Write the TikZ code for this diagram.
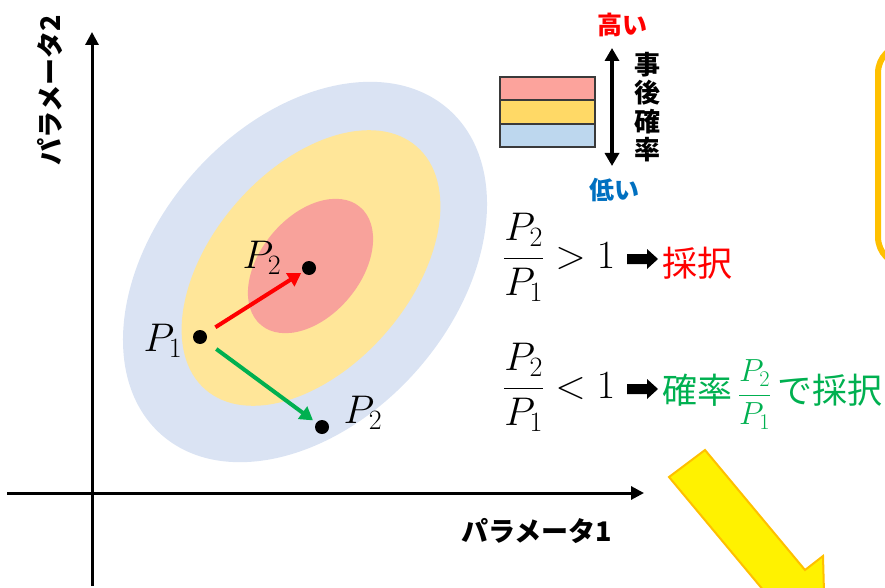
\RequirePackage{fix-cm}
\documentclass[tikz,border=0pt]{standalone}
\usepackage{fontspec}
\newfontfamily\jp{Noto Sans CJK JP}
\usetikzlibrary{arrows.meta}
\definecolor{ellblue}{HTML}{DAE3F3}
\definecolor{ellyel}{HTML}{FFE699}
\definecolor{ellred}{HTML}{F8A29B}
\definecolor{legred}{HTML}{FCA39C}
\definecolor{legyel}{HTML}{FFD966}
\definecolor{legblue}{HTML}{BDD7EE}
\definecolor{myred}{HTML}{FF0000}
\definecolor{mygreen}{HTML}{00B050}
\definecolor{myblue}{HTML}{0070C0}
\definecolor{boxyel}{HTML}{FFC000}
\definecolor{legline}{HTML}{3A3A3A}
\begin{document}
\begin{tikzpicture}[x=1pt,y=-1pt,
  dot/.style={circle,fill=black,inner sep=0pt,minimum size=14pt},
  axisline/.style={line width=3pt,-{Triangle[length=13pt,width=13pt]}},
  movearrow/.style={line width=4pt,-{Triangle[length=13pt,width=15pt]}},
  plabel/.style={inner sep=0pt,font=\fontsize{40}{48}\selectfont},
  jpbold/.style={inner sep=0pt,font=\jp\bfseries\fontsize{#1}{#1}\selectfont},
  jpreg/.style={inner sep=0pt,font=\jp\fontsize{35}{40}\selectfont},
  legrect/.style={draw=legline,line width=1.5pt},
  bigarrow/.style={fill=black}]
\useasboundingbox (0,0) rectangle (885,588);
\clip (0,0) rectangle (885,588);

% ellipses
\fill[ellblue,rotate around={48.5:(305,272)}] (305,272) ellipse [x radius=217, y radius=149];
\fill[ellyel,rotate around={49:(311,268)}] (311,268) ellipse [x radius=161, y radius=99];
\fill[ellred,rotate around={50:(310.5,266)}] (310.5,266) ellipse [x radius=77, y radius=50];

% axes
\coordinate (yb) at (92,586);
\coordinate (yt) at (92,32);
\coordinate (xl) at (7,493);
\coordinate (xr) at (644,493);
\draw[axisline] (yb) -- (yt);
\draw[axisline] (xl) -- (xr);
\node[jpbold=27] (xlab) at (537,531) {パラメータ1};
\node[jpbold=27,rotate=90] (ylab) at (50,90) {パラメータ2};

% points
\node[dot] (p1) at (200,337) {};
\node[dot] (p2a) at (309,268) {};
\node[dot] (p2b) at (322,427) {};
\node[plabel] (lp1) at (163,341) {$P_1$};
\node[plabel] (lp2a) at (262,258) {$P_2$};
\node[plabel] (lp2b) at (363,413) {$P_2$};
\draw[movearrow,myred,shorten <=11pt,shorten >=2pt] (p1) -- (p2a);
\draw[movearrow,mygreen,shorten <=13pt,shorten >=4pt] (p1) -- (p2b);

% legend
\fill[legred] (500,77) rectangle (595,100);
\fill[legyel] (500,100) rectangle (595,124);
\fill[legblue] (500,124) rectangle (595,147);
\draw[legrect] (500,77) rectangle (595,147);
\draw[legrect] (500,100) -- (595,100);
\draw[legrect] (500,124) -- (595,124);
\coordinate (lt) at (612,48);
\coordinate (lb) at (612,166);
\draw[line width=4pt,{Triangle[length=13pt,width=14pt]}-{Triangle[length=13pt,width=14pt]}] (lt) -- (lb);
\node[jpbold=25,text=myred] (high) at (622,25) {高い};
\node[jpbold=25,text=myblue] (low) at (614,190) {低い};
\node[inner sep=0pt,align=center,font=\jp\bfseries\fontsize{26}{28.5}\selectfont] (post) at (647,107) {事\\後\\確\\率};

% rules
\node[plabel,anchor=base west] (f1) at (503,268) {$\displaystyle\frac{P_2}{P_1} > 1$};
\node[plabel,anchor=base west] (f2) at (503,398) {$\displaystyle\frac{P_2}{P_1} < 1$};
\fill[bigarrow] (627,254) -- (647,254) -- (647,249) -- (658,259) -- (647,269) -- (647,264) -- (627,264) -- cycle;
\fill[bigarrow] (627,384) -- (647,384) -- (647,379) -- (658,389) -- (647,399) -- (647,394) -- (627,394) -- cycle;
\node[jpreg,anchor=base west,text=myred] (acc1) at (662,276) {採択};
\node[jpreg,anchor=base west,text=mygreen] (acc2) at (662,403) {確率\,{\fontsize{32}{36}\selectfont$\displaystyle\frac{P_2}{P_1}$}\,で採択};

% yellow box and big arrow
\draw[boxyel,line width=6pt,rounded corners=28pt] (878,45) rectangle (960,265);
\filldraw[fill=yellow,draw=boxyel,line width=2pt] (669,477) -- (705,450) -- (805,570) -- (823,556) -- (825,630) -- (751,612) -- (769,597) -- cycle;
\end{tikzpicture}
\end{document}
